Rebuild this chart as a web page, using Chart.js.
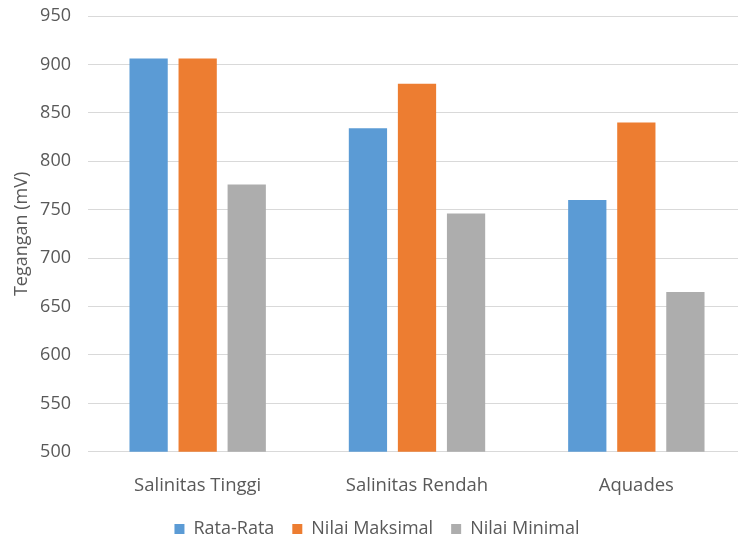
<!DOCTYPE html>
<html>
<head>
<meta charset="utf-8">
<script src="https://cdn.jsdelivr.net/npm/chart.js@4/dist/chart.umd.min.js"></script>
<style>
  html, body { margin: 0; padding: 0; background: #ffffff; overflow: hidden; }
  #wrap { width: 738px; height: 542px; overflow: hidden; position: relative; }
  #box { width: 746px; height: 542px; position: absolute; left: 0; top: 0; }
</style>
</head>
<body>
<div id="wrap"><div id="box"><canvas id="chart"></canvas></div></div>
<script>
// Tegangan (mV) per kondisi larutan
const categories = ['Salinitas Tinggi', 'Salinitas Rendah', 'Aquades'];
const rataRata = [906, 834, 760];
const nilaiMaksimal = [906, 880, 840];
const nilaiMinimal = [776, 746, 665];
const yTicks = [500, 550, 600, 650, 700, 750, 800, 850, 900, 950];

const FONT = '"Open Sans", "Noto Sans", sans-serif';
const TEXT = '#595959';
const GRID = '#D9D9D9';

// Legend keeps wide spacing between items but sits in a thinner band.
const LEGEND_TRIM = 16;
const LEGEND_LIFT = 10;
const compactLegend = {
  id: 'compactLegend',
  beforeLayout(chart) {
    const lg = chart.legend;
    if (!lg || lg.$compact) return;
    const fit = lg.fit;
    lg.fit = function () {
      fit.call(this);
      this.height -= LEGEND_TRIM;
    };
    lg.$compact = true;
  },
  afterLayout(chart) {
    const lg = chart.legend;
    if (lg) { lg.top -= LEGEND_LIFT; }
  }
};

new Chart(document.getElementById('chart'), {
  type: 'bar',
  data: {
    labels: categories,
    datasets: [
      { label: 'Rata-Rata', data: rataRata, backgroundColor: '#5B9BD5' },
      { label: 'Nilai Maksimal', data: nilaiMaksimal, backgroundColor: '#ED7D31' },
      { label: 'Nilai Minimal', data: nilaiMinimal, backgroundColor: '#ADADAD' }
    ]
  },
  plugins: [compactLegend],
  options: {
    responsive: true,
    maintainAspectRatio: false,
    animation: false,
    datasets: { bar: { categoryPercentage: 0.671, barPercentage: 0.78 } },
    layout: { padding: { top: 16, left: 8, right: 0, bottom: 0 } },
    plugins: {
      tooltip: { enabled: false },
      legend: {
        position: 'bottom',
        labels: {
          boxWidth: 10,
          boxHeight: 10,
          padding: 18,
          color: TEXT,
          font: { family: FONT, size: 18 }
        }
      }
    },
    scales: {
      x: {
        grid: { display: false },
        border: { display: true, color: GRID, width: 1 },
        ticks: { color: TEXT, padding: 15, font: { family: FONT, size: 18.5 } }
      },
      y: {
        min: 500,
        max: 950,
        afterBuildTicks: (axis) => { axis.ticks = yTicks.map(v => ({ value: v })); },
        afterFit: (axis) => {
          axis.width = 80;
          // only half a label of room above and below the value axis
          axis.paddingTop = 11;
          axis.paddingBottom = 11;
        },
        grid: { color: GRID, lineWidth: 1, drawTicks: false },
        border: { display: false },
        ticks: { color: TEXT, padding: 17, font: { family: FONT, size: 18 } },
        title: {
          display: true,
          text: 'Tegangan (mV)',
          color: TEXT,
          padding: { top: 3, bottom: 0 },
          font: { family: FONT, size: 18 }
        }
      }
    }
  }
});
</script>
</body>
</html>
